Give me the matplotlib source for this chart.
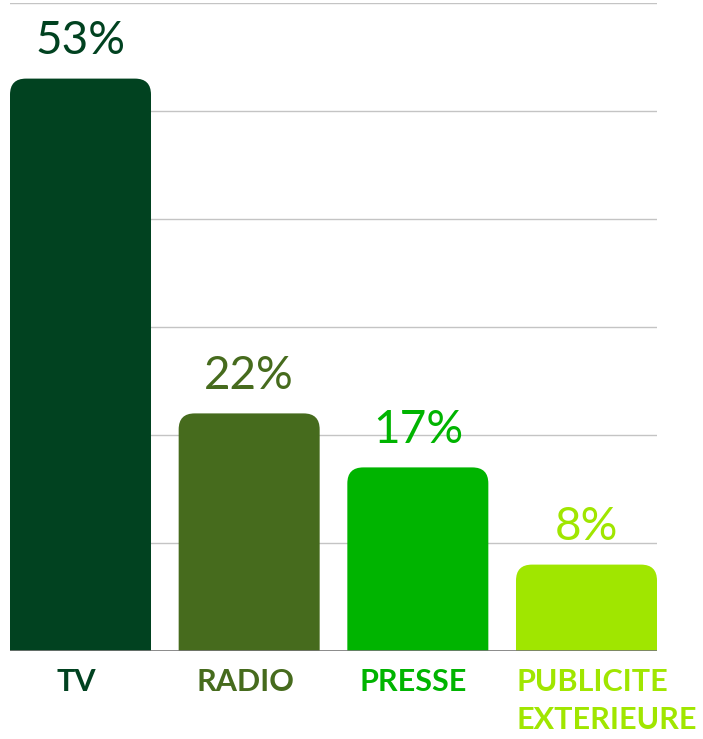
import matplotlib.pyplot as plt
from matplotlib.patches import FancyBboxPatch

# Données
categories = ['TV', 'RADIO', 'PRESSE', 'PUBLICITE\nEXTERIEURE']
valeurs = [53, 22, 17, 8]
couleurs = ['#014220', '#466b1d', '#00b400', '#a0e600']

plt.rcParams['font.family'] = ['Lato', 'DejaVu Sans']

W, H = 703, 739
fig = plt.figure(figsize=(W / 100, H / 100), dpi=100)
# axes en pixels : x 10 -> 657, y 3 -> 651 (depuis le haut)
ax = fig.add_axes([10 / W, (H - 651) / H, 647 / W, 648 / H])

largeur = 0.836
ax.set_xlim(-largeur / 2, len(valeurs) - 1 + largeur / 2)
ax.set_ylim(0, 60)

# échelle px par unité
px_x = 647 / (len(valeurs) - 1 + largeur)
px_y = 648 / 60
rayon_px = 16

for y in range(10, 61, 10):
    ax.axhline(y, color='#c4c4c4', lw=1, zorder=0)
ax.axhline(0, color='#777777', lw=1.2, zorder=3)

for i, (v, c) in enumerate(zip(valeurs, couleurs)):
    barre = FancyBboxPatch((i - largeur / 2, -5), largeur, v + 5,
                           boxstyle=f"round,pad=0,rounding_size={rayon_px / px_x}",
                           mutation_aspect=px_x / px_y,
                           facecolor=c, edgecolor='none', zorder=2)
    ax.add_patch(barre)
    ax.annotate(f'{v}%', (i, v), xytext=(0, 12), textcoords='offset points',
                ha='center', va='bottom', fontsize=33, color=c,
                annotation_clip=False)
    if '\n' in categories[i]:
        ax.annotate(categories[i], (i - largeur / 2, 0), xytext=(0.5, -12),
                    textcoords='offset points', ha='left', va='top',
                    fontsize=22, fontweight='bold', color=c,
                    linespacing=1.45, annotation_clip=False)
    else:
        ax.annotate(categories[i], (i, 0), xytext=(-3, -12),
                    textcoords='offset points', ha='center', va='top',
                    fontsize=22, fontweight='bold', color=c,
                    annotation_clip=False)

ax.axis('off')
fig.savefig('out.png', dpi=100)
